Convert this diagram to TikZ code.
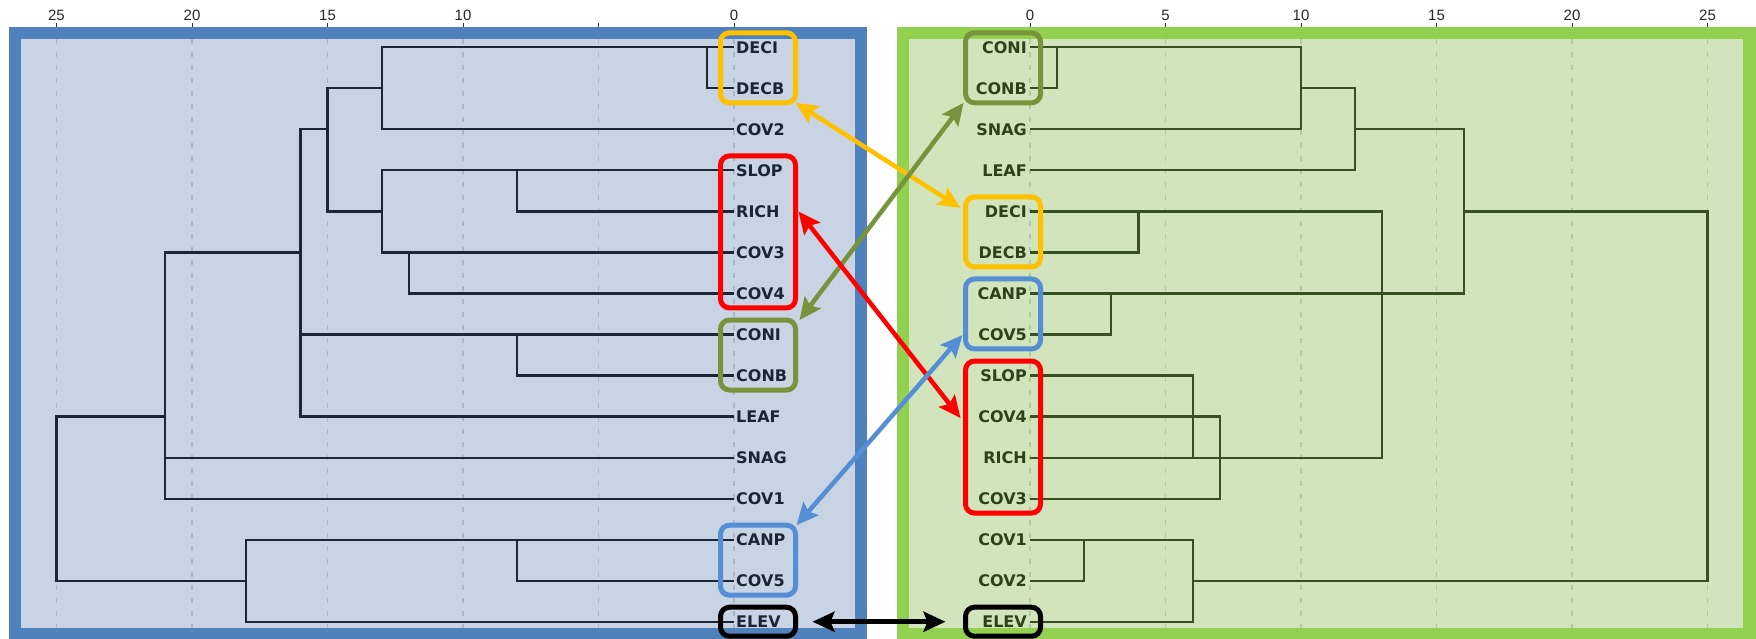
\documentclass[tikz,border=0pt]{standalone}
\usepackage{fontspec}
\setmainfont{Liberation Sans}
\newfontfamily\leaffont{DejaVu Sans}
\usetikzlibrary{arrows.meta}

\definecolor{lframe}{HTML}{4F81BD}
\definecolor{lpanel}{HTML}{C8D4E4}
\definecolor{rframe}{HTML}{92D050}
\definecolor{rpanel}{HTML}{D1E4BC}
\definecolor{ltree}{HTML}{1B2636}
\definecolor{rtree}{HTML}{37501F}
\definecolor{ltext}{HTML}{1A2636}
\definecolor{rtext}{HTML}{2D4219}
\definecolor{lgridc}{HTML}{ACB6C4}
\definecolor{rgridc}{HTML}{B3C89E}
\definecolor{hlorange}{HTML}{FFC000}
\definecolor{hlred}{HTML}{FF0000}
\definecolor{hlolive}{HTML}{77933C}
\definecolor{hlblue}{HTML}{558ED5}

\tikzset{
  panelgrid/.style={line width=1.2pt, dash pattern=on 5pt off 8pt},
  axistick/.style={draw=black!80, line width=1pt},
  ticklabel/.style={font=\fontsize{15}{17}\selectfont, text=black!85, inner sep=0pt},
  leaf/.style={font=\leaffont\bfseries\fontsize{16}{18}\selectfont, inner ysep=0pt, text height=11.7pt, text depth=0pt},
  lleaf/.style={leaf, text=ltext, anchor=west, inner xsep=2pt},
  rleaf/.style={leaf, text=rtext, anchor=east, inner xsep=3pt},
  ltreeline/.style={draw=ltree, line width=2.2pt},
  rtreeline/.style={draw=rtree, line width=2.2pt},
  hlbox/.style={draw=#1, line width=5pt, rounded corners=9pt, minimum width=75pt, outer sep=0pt, inner sep=0pt},
  pairarrow/.style={draw=#1, line width=4.5pt, {Stealth[length=22pt,width=20pt,inset=4pt]}-{Stealth[length=22pt,width=20pt,inset=4pt]}},
}

\begin{document}
\begin{tikzpicture}[x=1pt,y=-1pt,
  declare function={row(\i)=47.3+41.03*\i; lx(\d)=734-27.1*\d; rx(\d)=1030+27.1*\d;}]

\useasboundingbox (0,0) rectangle (1756,639);

% panels
\fill[lframe] (9,27) rectangle (867,640);
\fill[lpanel] (21,39) rectangle (855,628);
\fill[rframe] (897,27) rectangle (1757,640);
\fill[rpanel] (909,39) rectangle (1743,628);

% distance axes and grid
\foreach \d in {0,5,...,25} {
  \draw[panelgrid, lgridc] ({lx(\d)},39) -- ({lx(\d)},628);
  \draw[axistick] ({lx(\d)},23) -- ({lx(\d)},27);
  \draw[panelgrid, rgridc] ({rx(\d)},39) -- ({rx(\d)},628);
  \draw[axistick] ({rx(\d)},23) -- ({rx(\d)},27);
}
\foreach \d in {0,10,15,20,25}
  \node[ticklabel] (lt\d) at ({lx(\d)},15.5) {\d};
\foreach \d in {0,5,...,25}
  \node[ticklabel] (rt\d) at ({rx(\d)},15.5) {\d};

% leaves
\foreach \n [count=\i from 0] in {DECI,DECB,COV2,SLOP,RICH,COV3,COV4,CONI,CONB,LEAF,SNAG,COV1,CANP,COV5,ELEV}
  \node[lleaf] (L\n) at (734,{row(\i)}) {\n};
\foreach \n [count=\i from 0] in {CONI,CONB,SNAG,LEAF,DECI,DECB,CANP,COV5,SLOP,COV4,RICH,COV3,COV1,COV2,ELEV}
  \node[rleaf] (R\n) at (1030,{row(\i)}) {\n};

% left dendrogram
\draw[ltreeline] (LDECI.west) -- ({lx(13)},{row(0)}) -- ({lx(13)},{row(2)}) -- (LCOV2.west);
\draw[ltreeline] ({lx(1)},{row(0)}) -- ({lx(1)},{row(1)}) -- (LDECB.west);
\draw[ltreeline] ({lx(13)},{row(1)}) -- ({lx(15)},{row(1)}) -- ({lx(15)},{row(4)}) -- ({lx(13)},{row(4)});
\draw[ltreeline] (LSLOP.west) -- ({lx(13)},{row(3)}) -- ({lx(13)},{row(5)}) -- (LCOV3.west);
\draw[ltreeline] ({lx(8)},{row(3)}) -- ({lx(8)},{row(4)}) -- (LRICH.west);
\draw[ltreeline] ({lx(12)},{row(5)}) -- ({lx(12)},{row(6)}) -- (LCOV4.west);
\draw[ltreeline] ({lx(15)},{row(2)}) -- ({lx(16)},{row(2)}) -- ({lx(16)},{row(9)}) -- (LLEAF.west);
\draw[ltreeline] (LCONI.west) -- ({lx(16)},{row(7)});
\draw[ltreeline] ({lx(8)},{row(7)}) -- ({lx(8)},{row(8)}) -- (LCONB.west);
\draw[ltreeline] ({lx(16)},{row(5)}) -- ({lx(21)},{row(5)}) -- ({lx(21)},{row(11)}) -- (LCOV1.west);
\draw[ltreeline] (LSNAG.west) -- ({lx(21)},{row(10)});
\draw[ltreeline] ({lx(21)},{row(9)}) -- ({lx(25)},{row(9)}) -- ({lx(25)},{row(13)}) -- ({lx(18)},{row(13)});
\draw[ltreeline] (LCANP.west) -- ({lx(18)},{row(12)}) -- ({lx(18)},{row(14)}) -- (LELEV.west);
\draw[ltreeline] ({lx(8)},{row(12)}) -- ({lx(8)},{row(13)}) -- (LCOV5.west);

% right dendrogram
\draw[rtreeline] (RCONI.east) -- ({rx(10)},{row(0)}) -- ({rx(10)},{row(2)}) -- (RSNAG.east);
\draw[rtreeline] ({rx(1)},{row(0)}) -- ({rx(1)},{row(1)}) -- (RCONB.east);
\draw[rtreeline] ({rx(10)},{row(1)}) -- ({rx(12)},{row(1)}) -- ({rx(12)},{row(3)}) -- (RLEAF.east);
\draw[rtreeline] ({rx(12)},{row(2)}) -- ({rx(16)},{row(2)}) -- ({rx(16)},{row(6)}) -- (RCANP.east);
\draw[rtreeline] ({rx(3)},{row(6)}) -- ({rx(3)},{row(7)}) -- (RCOV5.east);
\draw[rtreeline] ({rx(16)},{row(4)}) -- ({rx(25)},{row(4)}) -- ({rx(25)},{row(13)}) -- ({rx(6)},{row(13)});
\draw[rtreeline] (RDECI.east) -- ({rx(13)},{row(4)}) -- ({rx(13)},{row(10)}) -- (RRICH.east);
\draw[rtreeline] ({rx(4)},{row(4)}) -- ({rx(4)},{row(5)}) -- (RDECB.east);
\draw[rtreeline] (RSLOP.east) -- ({rx(6)},{row(8)}) -- ({rx(6)},{row(10)});
\draw[rtreeline] (RCOV4.east) -- ({rx(7)},{row(9)}) -- ({rx(7)},{row(11)}) -- (RCOV3.east);
\draw[rtreeline] (RCOV1.east) -- ({rx(6)},{row(12)}) -- ({rx(6)},{row(14)}) -- (RELEV.east);
\draw[rtreeline] ({rx(2)},{row(12)}) -- ({rx(2)},{row(13)}) -- (RCOV2.east);

% highlighted groups
\node[hlbox=hlorange, minimum height=70pt] (LbDEC) at (758,{(row(0)+row(1))/2}) {};
\node[hlbox=hlred, minimum height=152pt] (LbRED) at (758,{(row(3)+row(6))/2}) {};
\node[hlbox=hlolive, minimum height=70pt] (LbCON) at (758,{(row(7)+row(8))/2}) {};
\node[hlbox=hlblue, minimum height=70pt] (LbCAN) at (758,{(row(12)+row(13))/2}) {};
\node[hlbox=black, minimum height=29pt] (LbELEV) at (758,{row(14)}) {};

\node[hlbox=hlolive, minimum height=70pt] (RbCON) at (1003,{(row(0)+row(1))/2}) {};
\node[hlbox=hlorange, minimum height=70pt] (RbDEC) at (1003,{(row(4)+row(5))/2}) {};
\node[hlbox=hlblue, minimum height=70pt] (RbCAN) at (1003,{(row(6)+row(7))/2}) {};
\node[hlbox=hlred, minimum height=152pt] (RbRED) at (1003,{(row(8)+row(11))/2}) {};
\node[hlbox=black, minimum height=29pt] (RbELEV) at (1003,{row(14)}) {};

% correspondences between the two trees
\draw[pairarrow=hlorange] (LbDEC.south east) -- ([shift={(-5,11)}]RbDEC.north west);
\draw[pairarrow=hlolive] ([xshift=-2pt]RbCON.south west) -- ([xshift=4pt]LbCON.north east);
\draw[pairarrow=hlred] ([shift={(3,-20.5)}]LbRED.east) -- ([shift={(-5,-19)}]RbRED.west);
\draw[pairarrow=hlblue] ([xshift=1pt]LbCAN.north east) -- ([shift={(-3,-14)}]RbCAN.south west);
\draw[pairarrow=black] ([xshift=17pt]LbELEV.east) -- ([xshift=-20pt]RbELEV.west);

\end{tikzpicture}
\end{document}
